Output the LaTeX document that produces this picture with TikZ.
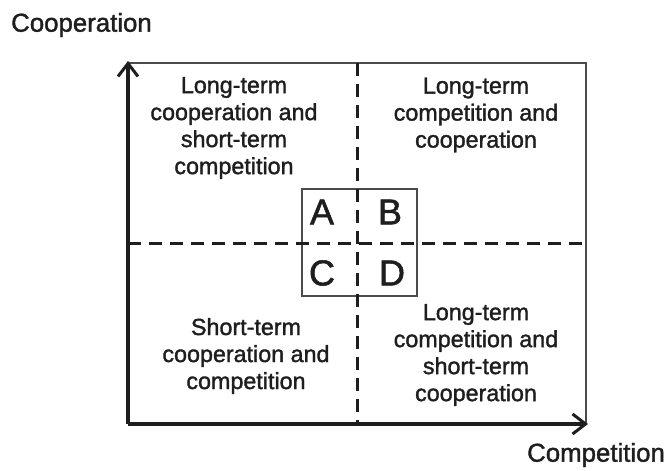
\documentclass[tikz,border=0pt]{standalone}
\usepackage{fontspec}
\setmainfont{Liberation Sans}
\newfontfamily\heavyfont[FakeBold=1.5]{Liberation Sans}
\usetikzlibrary{arrows.meta}
\definecolor{ink}{HTML}{1E1E1E}
\tikzset{
  axisline/.style={line width=3.2pt,draw=ink,-{Straight Barb[length=13pt,width=20pt,line width=3pt]}},
  thinbox/.style={line width=1.6pt,draw=ink!80},
  dashline/.style={line width=3pt,draw=ink,dash pattern=on 13pt off 8pt},
  quadtext/.style={align=center,text=ink,font=\heavyfont\fontsize{23.3}{27}\selectfont,inner sep=0pt},
  letter/.style={text=ink,font=\heavyfont\fontsize{36}{40}\selectfont,inner sep=0pt},
  axislabel/.style={text=ink,font=\heavyfont\fontsize{25.8}{28}\selectfont,inner sep=0pt}
}
\begin{document}
\begin{tikzpicture}[x=1pt,y=-1pt]
\useasboundingbox (0,0) rectangle (670,471);
\coordinate (O) at (128,424);
\coordinate (TL) at (128,63);
\coordinate (TR) at (586,63);
\coordinate (BR) at (586,424);
\coordinate (VT) at (357,63);
\coordinate (VB) at (357,424);
\coordinate (HL) at (128,243);
\coordinate (HR) at (586,243);
% outer box (top and right)
\draw[thinbox] (TL) -- (TR) -- (BR);
% small box
\draw[thinbox] (302,189) rectangle (417,296);
% dashed lines
\draw[dashline] (VT) -- (VB);
\draw[dashline] (HL) -- (HR);
% axes
\draw[axisline] (O) -- (128,61);
\draw[axisline] (O) -- (588,424);
% letters
\node[letter] (A) at (322,212) {A};
\node[letter] (B) at (390,212) {B};
\node[letter] (C) at (322,273) {C};
\node[letter] (D) at (392,273) {D};
% quadrant texts
\node[quadtext] (q1) at (234,128) {Long-term\\cooperation and\\short-term\\competition};
\node[quadtext] (q2) at (476,115) {Long-term\\competition and\\cooperation};
\node[quadtext] (q3) at (246,356) {Short-term\\cooperation and\\competition};
\node[quadtext] (q4) at (476,355) {Long-term\\competition and\\short-term\\cooperation};
% axis labels
\node[axislabel,anchor=west] (ylab) at (11,25) {Cooperation};
\node[axislabel,anchor=west] (xlab) at (527,455) {Competition};
\end{tikzpicture}
\end{document}
